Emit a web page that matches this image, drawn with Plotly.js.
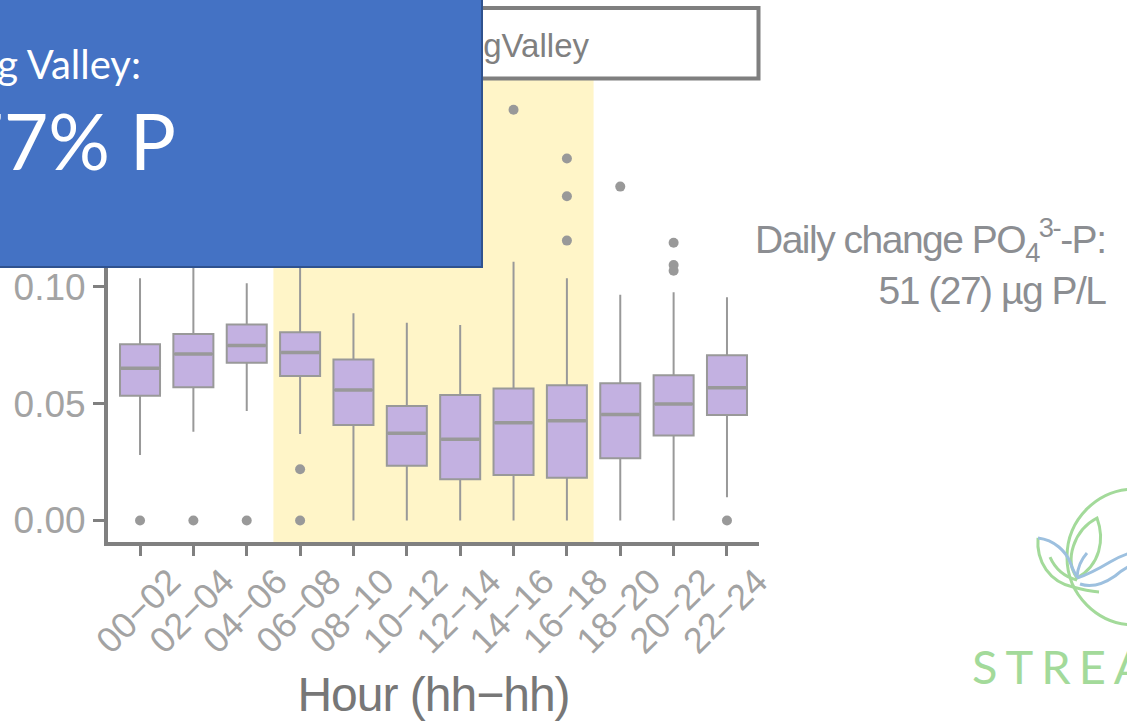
<!DOCTYPE html>
<html><head><meta charset="utf-8">
<script src="https://cdn.plot.ly/plotly-3.0.1.min.js"></script>
<style>html,body{margin:0;padding:0;background:#fff;overflow:hidden}#chart{width:1127px;height:721px}</style>
</head><body><div id="chart"></div>
<script>
// ---- data ----
const hours = ["00\u221202","02\u221204","04\u221206","06\u221208","08\u221210","10\u221212","12\u221214","14\u221216","16\u221218","18\u221220","20\u221222","22\u221224"];
const q1     = [0.0534,0.0570,0.0675,0.0618,0.0408,0.0234,0.0176,0.0195,0.0183,0.0266,0.0364,0.0451];
const median = [0.0651,0.0712,0.0748,0.0718,0.0558,0.0373,0.0347,0.0418,0.0427,0.0453,0.0498,0.0568];
const q3     = [0.0754,0.0798,0.0838,0.0805,0.0689,0.0490,0.0537,0.0565,0.0578,0.0587,0.0621,0.0707];
const lowerW = [0.0280,0.0380,0.0468,0.0370,0.0,0.0,0.0,0.0,0.0,0.0,0.0,0.0099];
const upperW = [0.1036,0.1120,0.1015,0.1180,0.0886,0.0846,0.0836,0.1107,0.1036,0.0965,0.0976,0.0955];
const outHour  = ["00\u221202","02\u221204","04\u221206","06\u221208","06\u221208","14\u221216","16\u221218","16\u221218","16\u221218","18\u221220","20\u221222","20\u221222","20\u221222","22\u221224"];
const outValue = [0.0,0.0,0.0,0.0219,0.0,0.1757,0.1548,0.1387,0.1197,0.1428,0.1188,0.1093,0.1068,0.0];
const yTicks = [0,0.05,0.10,0.15];
const lightStart = "06\u221208", lightEnd = "16\u221218";
const facetLabel = "SpringValley";
const boxTitle = "Spring Valley:";
const boxValue = "77% P";
const dailyLine1 = "Daily change PO<sub>4</sub><sup>3-</sup>-P:";
const dailyLine2 = "51 (27) \u00b5g P/L";
const logoText = "STREAMS";
const xTitle = "Hour (hh\u2212hh)";

// ---- layout helpers ----
const W = 1127, H = 721, L = 108, R = 759, T = 80, B = 542;
const px = x => (x - L) / (R - L);
const py = y => (B - y) / (B - T);
const idx = hours.map((h, i) => i);
const hi = h => hours.indexOf(h);
const bw = 0.75;
function path(cmds) {
  return cmds.map(c => typeof c === 'string' ? c : (px(c[0]).toFixed(4) + ',' + py(c[1]).toFixed(4))).join(' ');
}
const tight = (s, ls) => '<span style="letter-spacing:' + ls + 'px">' + s + '</span>';

const grey = '#999999';
const traces = [
  {type:'box', x: idx, q1: q1, median: median, q3: q3, lowerfence: lowerW, upperfence: upperW,
   width: bw, whiskerwidth: 0, fillcolor: '#C3B1E1', line: {color: grey, width: 2},
   boxpoints: false, hoverinfo: 'skip', showlegend: false},
  {type:'scatter', mode:'lines', x: idx.flatMap(i => [i - bw/2 + 0.02, i + bw/2 - 0.02, null]),
   y: median.flatMap(m => [m, m, null]), line: {color: grey, width: 3.5}, hoverinfo:'skip', showlegend:false},
  {type:'scatter', mode:'markers', x: outHour.map(hi), y: outValue,
   marker: {color: grey, size: 10}, hoverinfo:'skip', showlegend:false}
];

const green = '#A3DA9A', blue = '#9DC0DF';
const shapes = [
  {type:'rect', layer:'below', xref:'x', yref:'paper', x0: hi(lightStart) - 0.5, x1: hi(lightEnd) + 0.5, y0: 0, y1: 1,
   fillcolor:'#FFF5C8', line:{width:0}},
  {type:'rect', layer:'above', xref:'paper', yref:'paper', x0: px(108), x1: px(758.5), y0: py(78.5), y1: py(8),
   fillcolor:'#ffffff', line:{color:'#7F7F7F', width:4}},
  {type:'rect', layer:'above', xref:'paper', yref:'paper', x0: px(110), x1: px(592), y0: py(74), y1: py(10),
   fillcolor:'rgba(0,0,0,0)', line:{width:0},
   label:{text: facetLabel, textposition:'middle right', padding: 0,
          font:{family:'Liberation Sans, Arial, sans-serif', size:33, color:'#808080'}}},
  {type:'rect', layer:'above', xref:'paper', yref:'paper', x0: px(-10), x1: px(482), y0: py(267), y1: py(-10),
   fillcolor:'#4472C4', line:{color:'#2F528F', width:2}},
  // logo
  {type:'circle', layer:'above', xref:'paper', yref:'paper', x0: px(1067), x1: px(1203), y0: py(625), y1: py(489),
   fillcolor:'rgba(0,0,0,0)', line:{color: green, width: 3}},
  {type:'path', layer:'above', xref:'paper', yref:'paper', fillcolor:'#ffffff', line:{color: green, width: 3},
   path: path(['M',[1077,578],'C',[1064,560],[1074,530],[1097,518],'C',[1105,540],[1100,565],[1077,578],'Z'])},
  {type:'path', layer:'above', xref:'paper', yref:'paper', line:{color: green, width: 3},
   path: path(['M',[1038,538],'C',[1036,562],[1050,582],[1073,587],'Q',[1087,591],[1099,592]])},
  {type:'path', layer:'above', xref:'paper', yref:'paper', line:{color: blue, width: 3},
   path: path(['M',[1038,538],'C',[1055,540],[1066,552],[1070,562],'Q',[1074,573],[1078,578]])},
  {type:'path', layer:'above', xref:'paper', yref:'paper', line:{color: green, width: 3},
   path: path(['M',[1050,557],'Q',[1058,575],[1077,580]])},
  {type:'path', layer:'above', xref:'paper', yref:'paper', line:{color: blue, width: 3},
   path: path(['M',[1087,553],'Q',[1078,563],[1077,577]])},
  {type:'path', layer:'above', xref:'paper', yref:'paper', line:{color: blue, width: 3},
   path: path(['M',[1077,578],'C',[1090,574],[1100,568],[1110,562],'Q',[1120,556],[1130,553]])},
  {type:'path', layer:'above', xref:'paper', yref:'paper', line:{color: blue, width: 3},
   path: path(['M',[1080,584],'C',[1092,588],[1105,583],[1115,576],'Q',[1122,570],[1130,566]])}
];

const annotations = [
  {xref:'paper', yref:'paper', x: px(143), y: py(64), xanchor:'right', yanchor:'middle', showarrow:false,
   text: boxTitle, font:{family:'Lato, Open Sans, sans-serif', size:40, color:'#ffffff'}},
  {xref:'paper', yref:'paper', x: px(178), y: py(140), xanchor:'right', yanchor:'middle', showarrow:false,
   text: boxValue, font:{family:'Lato, Open Sans, sans-serif', size:77, color:'#ffffff'}},
  {xref:'paper', yref:'paper', x: px(1108), y: py(262), xanchor:'right', yanchor:'middle', showarrow:false, align:'right',
   text: tight(dailyLine1, -1.5) + '<br>' + tight(dailyLine2, -1.5),
   font:{family:'Liberation Sans, Arial, sans-serif', size:39, color:'#8C8E92'}},
  {xref:'paper', yref:'paper', x: px(970), y: py(666), xanchor:'left', yanchor:'middle', showarrow:false,
   text: tight(logoText, 8),
   font:{family:'Lato, Open Sans, sans-serif', size:47, color: green}}
];

const layout = {
  width: W, height: H, margin: {l: L, r: W - R, t: T, b: H - B, pad: 0},
  paper_bgcolor:'#ffffff', plot_bgcolor:'rgba(0,0,0,0)', showlegend:false,
  xaxis: {range:[-0.6, 11.6], tickvals: idx, ticktext: hours, tickangle: -45,
          showgrid:false, zeroline:false, showline:true, linecolor:'#808080', linewidth:4,
          ticks:'outside', ticklen:10, tickwidth:3, tickcolor:'#808080',
          ticklabelshift: 30, ticklabelstandoff: -10,
          tickfont:{family:'Liberation Sans, Arial, sans-serif', size:36, color:'#A3A3A3'},
          title:{text: tight(xTitle, -1), standoff: 40, font:{family:'Liberation Sans, Arial, sans-serif', size:48, color:'#777777'}}},
  yaxis: {range:[-0.0092, 0.1884], tickvals: yTicks, tickformat:'.2f',
          showgrid:false, zeroline:false, showline:true, linecolor:'#808080', linewidth:4,
          ticks:'outside', ticklen:11, tickwidth:3, tickcolor:'#808080', ticklabelstandoff: 0,
          tickfont:{family:'Liberation Sans, Arial, sans-serif', size:37, color:'#A3A3A3'}},
  shapes: shapes, annotations: annotations
};
Plotly.newPlot('chart', traces, layout, {staticPlot:true, displayModeBar:false});
</script></body></html>
